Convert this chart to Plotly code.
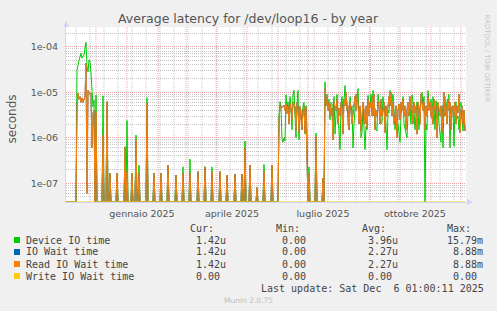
import numpy as np
import pandas as pd
import plotly.graph_objects as go

# ---------------- data: one value per day, in microseconds ----------------
N_DAYS = 400
START = "2024-11-01 01:00"          # graph ends at last update (6 Dec 2025)

start_block_first_day = 11
start_block_device_us = [30, 43, 50, 60, 72, 56, 62, 66, 92, 125,
                         36, 28, 51, 47, 26, 8, 4.8, 6.7, 0, 8.7]
start_block_read_us = [5, 9.5, 7, 8, 6, 7.5, 6, 7, 8, 43,
                       0.06, 11, 10, 9, 9.5, 0.6, 3.5, 4, 0, 3.7]

spike_days = [37, 41, 44, 51, 59, 61, 66, 70, 73, 81, 88, 95, 102, 110, 117, 124,
              132, 139, 146, 154, 161, 169, 176, 179, 184, 191, 198, 206, 243, 250, 257]
spike_device_us = [8.3, 6.2, 0.165, 0.165, 0.63, 2.4, 0.165, 1.15, 0.25, 7.6, 0.165,
                   0.165, 0.25, 0.15, 0.23, 0.34, 0.18, 0.23, 0.23, 0.18, 0.15, 0.16,
                   0.16, 0.85, 0.25, 0.08, 0.26, 0.25, 0.23, 1.26, 0.13]
spike_read_us = [1.15, 6.2, 0.165, 0.165, 0.63, 0.18, 0.165, 0.89, 0.165, 5.8, 0.165,
                 0.165, 0.25, 0.15, 0.165, 0.165, 0.18, 0.23, 0.18, 0.18, 0.15, 0.16,
                 0.16, 0.58, 0.25, 0.08, 0.18, 0.25, 0.165, 1.05, 0.13]

dense1_first_day = 213
dense1_device_us = [3, 6.2, 4.8, 0.9, 0.8, 1.0, 0.85, 8.7, 4.1, 6.2,
                    3, 8, 4.8, 1.5, 8.7, 11, 3.4, 1, 4.8, 11,
                    0.9, 4.8, 4.1, 1.5, 5, 6, 1.2, 5, 1.5]
dense1_read_us = [2.5, 4.8, 5.0, 4.5, 4.8, 5.2, 4, 5.5, 3.4, 5,
                  2, 5.7, 4.1, 2.5, 6, 5, 4.8, 1.5, 6, 5,
                  1.3, 4.8, 3, 1.5, 4, 5, 1.3, 4.5, 0.3]

dense2_first_day = 259
dense2_device_us = [17, 5, 9, 4, 7, 2.5, 6, 5.5, 3, 8,
                    1.2, 6, 9, 3.5, 1.5, 0.55, 5, 8, 3, 5.5,
                    14, 6, 6.5, 2, 1.5, 8, 4, 5, 0.6, 2,
                    5, 9, 6, 12, 3, 4, 1, 1.3, 5, 2,
                    0.55, 1.8, 1.5, 8.5, 4, 5, 9, 3, 11, 4,
                    4.5, 1.5, 1.4, 9, 6, 6, 2, 2.2, 8, 4,
                    5, 2, 0.55, 4, 3.5, 11, 5, 6, 9, 4,
                    1.5, 3, 2.6, 2, 1.3, 0.8, 3, 5, 8, 2,
                    1.5, 1.2, 1, 3.5, 5, 4.8, 2, 8.7, 5, 4,
                    1.5, 3, 6.2, 4, 1.5, 4.8, 7, 10, 5, 8,
                    0, 2, 1.5, 11, 6, 4.8, 7, 2.6, 8, 5,
                    1.5, 6.5, 4, 4.8, 2, 1, 0.8, 5, 0.6, 6,
                    8, 3, 6.5, 7, 9, 0.6, 4, 5, 4.8, 0.65,
                    5, 6.2, 2.6, 3, 1.5, 4.8, 6, 2.5, 1.4, 4,
                    1.42]
dense2_read_us = [12, 7, 5, 6, 4, 5.5, 3, 4.5, 0.9, 6,
                  5, 4, 7, 2, 4.5, 3, 6, 5, 1.2, 7,
                  5, 10, 4, 5, 1.5, 6, 4, 2, 3.5, 5.5,
                  8, 4, 9, 6, 2, 5, 1.4, 3, 6, 4,
                  2, 5, 1.6, 7, 3, 6, 4.5, 8, 3, 9,
                  1.5, 4, 3, 6, 5, 2, 7, 3, 5, 6,
                  1.3, 5, 3, 4.5, 8, 5, 10, 3, 6, 2,
                  4, 5, 1, 4, 5.5, 2.5, 6, 4, 7, 3,
                  5, 1.5, 4, 6, 3, 8, 4, 5, 2, 6,
                  3.5, 5, 1.2, 6, 4, 2, 9, 5, 4, 6,
                  1.5, 5, 3, 8, 4, 6, 3, 5, 2, 7,
                  4, 5, 1, 6, 4.5, 3, 5, 1.3, 4, 10,
                  3, 5, 2, 7, 4, 6, 1.5, 4, 5, 3,
                  6, 2, 5, 3.5, 9, 1.3, 4, 5, 2, 4,
                  1.42]

series_names = ["Device IO time", "IO Wait time", "Read IO Wait time", "Write IO Wait time"]
series_colors = ["#00CC00", "#0066B3", "#FF8000", "#FFCC00"]
stat_cur = [(1.42, "u"), (1.42, "u"), (1.42, "u"), (0.00, "")]
stat_min = [(0.00, ""), (0.00, ""), (0.00, ""), (0.00, "")]
stat_avg = [(3.96, "u"), (2.27, "u"), (2.27, "u"), (0.00, "")]
stat_max = [(15.79, "m"), (8.88, "m"), (8.88, "m"), (0.00, "")]

x_tick_vals = ["2025-01-16", "2025-04-16", "2025-07-16", "2025-10-16"]
x_tick_text = ["gennaio 2025", "aprile 2025", "luglio 2025", "ottobre 2025"]
y_tick_vals = [1e-7, 1e-6, 1e-5, 1e-4]
y_tick_text = ["1e-07", "1e-06", "1e-05", "1e-04"]

TITLE = "Average latency for /dev/loop16 - by year"
LAST_UPDATE = "Last update: Sat Dec\u00a0\u00a06 01:00:11 2025"

# ---------------- assemble daily series ----------------
def assemble(block, spikes, dense1, dense2):
    arr = np.zeros(N_DAYS)
    arr[start_block_first_day:start_block_first_day + len(block)] = block
    arr[spike_days] = spikes
    arr[dense1_first_day:dense1_first_day + len(dense1)] = dense1
    arr[dense2_first_day:dense2_first_day + len(dense2)] = dense2
    return arr * 1e-6

device = assemble(start_block_device_us, spike_device_us, dense1_device_us, dense2_device_us)
read = assemble(start_block_read_us, spike_read_us, dense1_read_us, dense2_read_us)
iowait = read.copy()
write = np.zeros(N_DAYS)

dates = pd.date_range(START, periods=N_DAYS, freq="D")
x_end = pd.Timestamp(START) + pd.Timedelta(days=N_DAYS)

Y_RANGE = [-7.411, -3.567]
FLOOR = 10 ** Y_RANGE[0]          # zero is drawn on the bottom edge, like rrdtool

fig = go.Figure()
for vals, name, col in zip([device, iowait, read, write], series_names, series_colors):
    fig.add_trace(go.Scatter(x=dates, y=np.where(vals > 0, vals, FLOOR), mode="lines",
                             name=name, line=dict(color=col, width=1), showlegend=False))

# ---------------- layout ----------------
W, H = 497, 311
L, R, T, B = 66, 31, 27, 109
PW, PH = W - L - R, H - T - B

def px(x):
    return (x - L) / PW

def py(y):
    return (H - B - y) / PH

GRID = "rgba(150,150,150,0.55)"
MGRID = "rgba(235,90,90,0.55)"
DASH = "1px,1px"
FONT = "DejaVu Sans"
MONO = "DejaVu Sans Mono"

minor_y = [k * 10.0 ** e for e in range(-8, -3) for k in range(2, 10)]

fig.update_layout(
    width=W, height=H, autosize=False,
    margin=dict(l=L, r=R, t=T, b=B, pad=0),
    paper_bgcolor="#F0F0F0", plot_bgcolor="#FFFFFF",
    showlegend=False,
    xaxis=dict(type="date", range=[pd.Timestamp(START), x_end],
               tickmode="array", tickvals=x_tick_vals, ticktext=x_tick_text,
               ticks="outside", ticklen=3, tickcolor="rgba(0,0,0,0)",
               tickfont=dict(family=FONT, size=9.5, color="#555555"),
               showgrid=False, zeroline=False,
               showline=True, linecolor="#CFD6F8", linewidth=1),
    yaxis=dict(type="log", range=Y_RANGE,
               tickmode="array", tickvals=y_tick_vals, ticktext=y_tick_text,
               ticks="outside", ticklen=5, tickcolor="rgba(0,0,0,0)",
               tickfont=dict(family=FONT, size=9.5, color="#555555"),
               showgrid=True, gridcolor=MGRID, griddash=DASH, gridwidth=1,
               zeroline=False, showline=True, linecolor="#CFD6F8", linewidth=1,
               minor=dict(tickmode="array", tickvals=minor_y, showgrid=True,
                          gridcolor=GRID, griddash=DASH, gridwidth=1, ticks="")),
)

shapes = []
# two-weekly minor vertical grid lines
for d in pd.date_range("2024-11-11", x_end, freq="14D"):
    shapes.append(dict(type="line", xref="x", yref="paper", x0=d, x1=d, y0=0, y1=1,
                       line=dict(color=GRID, width=1, dash=DASH), layer="below"))
# monthly major vertical grid lines
for m in pd.date_range("2024-12-01", "2025-12-01", freq="MS"):
    shapes.append(dict(type="line", xref="x", yref="paper", x0=m, x1=m, y0=0, y1=1,
                       line=dict(color=MGRID, width=1, dash=DASH), layer="below"))

# axis arrows
ARROW = "#CFD6F8"
shapes.append(dict(type="path", xref="paper", yref="paper",
                   path=f"M {px(63)} {py(27)} L {px(66)} {py(21)} L {px(69)} {py(27)} Z",
                   fillcolor=ARROW, line=dict(width=0)))
shapes.append(dict(type="path", xref="paper", yref="paper",
                   path=f"M {px(467)} {py(199)} L {px(473.5)} {py(202)} L {px(467)} {py(205)} Z",
                   fillcolor=ARROW, line=dict(width=0)))

annotations = []

def text(x, y, s, size, color="#444444", family=FONT, xanchor="left", angle=0):
    annotations.append(dict(x=px(x), y=py(y), xref="paper", yref="paper", text=s,
                            showarrow=False, xanchor=xanchor, yanchor="middle",
                            textangle=angle, borderpad=0, borderwidth=0,
                            font=dict(family=family, size=size, color=color)))

text(248.5, 19, TITLE, 12.5, "#555555", xanchor="center")
text(11.5, 119, "seconds", 12, "#555555", xanchor="center", angle=-90)
text(487, 58.5, "RRDTOOL / TOBI OETIKER", 6.8, "#C4C4C4", xanchor="center", angle=90)

# legend
CW = 6.02
ROW_Y = [240, 252, 264, 276]
COL_X0 = [184, 269.7, 355.7, 440.7]
for hx, h in zip(COL_X0, ["Cur:", "Min:", "Avg:", "Max:"]):
    text(hx + CW, 228, h, 10, family=MONO)
for i, name in enumerate(series_names):
    y = ROW_Y[i]
    shapes.append(dict(type="rect", xref="paper", yref="paper",
                       x0=px(14), x1=px(20), y0=py(y + 3), y1=py(y - 3),
                       fillcolor=series_colors[i], line=dict(width=0)))
    text(26, y, name, 10, family=MONO)
    for cx0, stat in zip(COL_X0, [stat_cur, stat_min, stat_avg, stat_max]):
        v, unit = stat[i]
        num = "%.2f" % v
        text(cx0 + (6 - len(num)) * CW, y, num + unit, 10, family=MONO)

text(483.5, 288, LAST_UPDATE, 10, family=MONO, xanchor="right")
text(248, 300, "Munin 2.0.75", 7.5, "#C0C0C0", xanchor="center")

fig.update_layout(shapes=shapes, annotations=annotations)
fig.write_html("out.html")
